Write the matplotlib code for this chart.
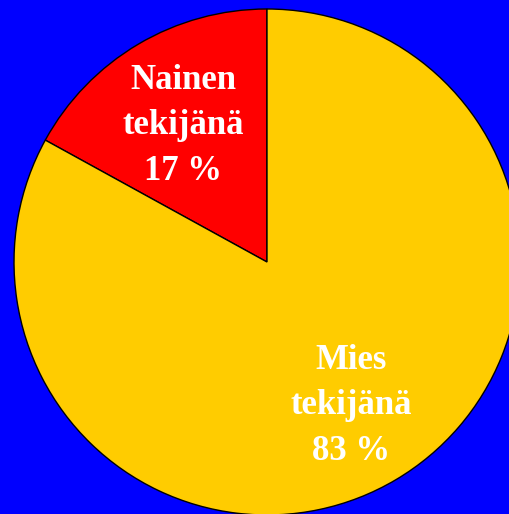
import matplotlib.pyplot as plt

# osuudet
labels = ['Nainen\ntekijänä\n17 %', 'Mies\ntekijänä\n83 %']
values = [17, 83]
colors = ['#FF0000', '#FFCC00']

W, H = 510, 514
cx, cy, r = 267, 262, 253  # piirakan keskipiste ja säde pikseleinä

fig = plt.figure(figsize=(W / 100, H / 100), dpi=100, facecolor='#0000FF')
ax = fig.add_axes([0, 0, 1, 1])
ax.set_facecolor('#0000FF')

wedges, _ = ax.pie(values, colors=colors, startangle=90, counterclock=True,
                   radius=1, wedgeprops=dict(edgecolor='black', linewidth=1))

ax.set_xlim(-cx / r, (W - cx) / r)
ax.set_ylim((cy - H) / r, cy / r)
ax.set_aspect('auto')
ax.axis('off')

# tekstien paikat (pikseleinä)
text_pos = [(183, 126), (351, 406)]
for lab, (px, py) in zip(labels, text_pos):
    ax.text((px - cx) / r, (cy - py) / r, lab, ha='center', va='center',
            color='white', fontsize=25, fontweight='bold',
            family='Liberation Serif', linespacing=1.5)

fig.savefig('out.png', dpi=100, facecolor='#0000FF')
